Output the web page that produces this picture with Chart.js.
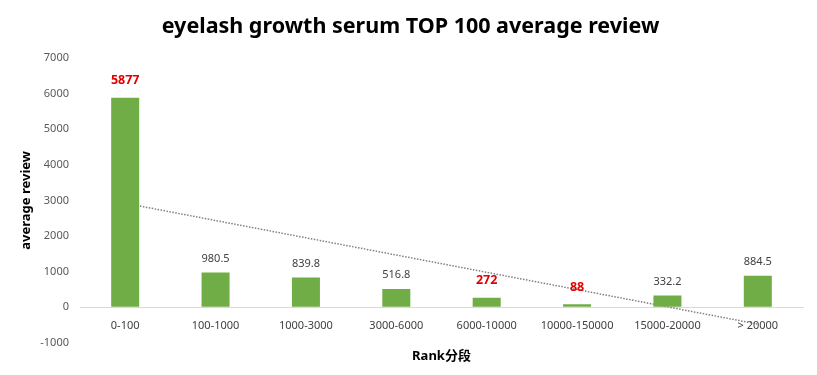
<!DOCTYPE html>
<html>
<head>
<meta charset="utf-8">
<script src="https://cdn.jsdelivr.net/npm/chart.js@4"></script>
<style>
  html, body { margin: 0; padding: 0; background: #fff; }
  #wrap { width: 817px; height: 375px; }
</style>
</head>
<body>
<div id="wrap"><canvas id="chart"></canvas></div>
<script>
const rankRanges = ["0-100", "100-1000", "1000-3000", "3000-6000", "6000-10000", "10000-150000", "15000-20000", "> 20000"];
const avgReview = [5877, 980.5, 839.8, 516.8, 272, 88, 332.2, 884.5];
// linear trendline ends
const trendLine = [2920, null, null, null, null, null, null, -470];
const yTicks = [-1000, 0, 1000, 2000, 3000, 4000, 5000, 6000, 7000];
const redLabels = ["0-100", "6000-10000", "10000-150000"];

const FONT = "'Noto Sans', 'Noto Sans CJK SC', sans-serif";

// value labels above the bars
const barLabels = {
  id: "barLabels",
  afterDatasetsDraw(chart) {
    const ctx = chart.ctx;
    const meta = chart.getDatasetMeta(0);
    ctx.save();
    ctx.textAlign = "center";
    ctx.textBaseline = "middle";
    meta.data.forEach((bar, i) => {
      const red = redLabels.includes(rankRanges[i]);
      ctx.fillStyle = red ? "#e00000" : "#404040";
      ctx.font = (red ? "bold 12.5px " : "11px ") + FONT;
      ctx.fillText(String(avgReview[i]), bar.x, bar.y - (red ? 17 : 14));
    });
    ctx.restore();
  },
};

// x axis title under the chart area
const xTitle = {
  id: "xTitle",
  afterDraw(chart) {
    const ctx = chart.ctx;
    const area = chart.chartArea;
    ctx.save();
    ctx.textAlign = "center";
    ctx.textBaseline = "middle";
    ctx.fillStyle = "#000";
    ctx.font = "bold 13px " + FONT;
    ctx.fillText("Rank分段", (area.left + area.right) / 2, 356);
    ctx.restore();
  },
};

new Chart(document.getElementById("chart"), {
  data: {
    labels: rankRanges,
    datasets: [
      {
        type: "bar",
        label: "average review",
        data: avgReview,
        backgroundColor: "#70ad47",
        barPercentage: 0.31,
        categoryPercentage: 1,
        order: 1,
      },
      {
        type: "line",
        label: "trend",
        data: trendLine,
        spanGaps: true,
        borderColor: "#808080",
        borderWidth: 1.5,
        borderDash: [1.5, 1.5],
        pointRadius: 0,
        fill: false,
        order: 2,
      },
    ],
  },
  options: {
    responsive: true,
    maintainAspectRatio: false,
    animation: false,
    layout: { padding: { left: 18, right: 14, top: 0, bottom: 32 } },
    plugins: {
      legend: { display: false },
      tooltip: { enabled: false },
      title: {
        display: true,
        text: "eyelash growth serum TOP 100 average review",
        color: "#000",
        font: { family: FONT, size: 21.5, weight: "bold" },
        padding: { top: 14, bottom: 18 },
      },
    },
    scales: {
      x: {
        position: { y: 0 },
        grid: { display: false },
        border: { color: "#d9d9d9" },
        ticks: {
          color: "#404040",
          font: { family: FONT, size: 11 },
          padding: 4,
          maxRotation: 0,
          autoSkip: false,
        },
      },
      y: {
        min: -1000,
        max: 7000,
        afterBuildTicks: (scale) => {
          scale.ticks = yTicks.map((v) => ({ value: v }));
        },
        afterFit: (scale) => {
          scale.width = 62;
        },
        border: { display: false },
        grid: {
          drawTicks: false,
          color: (c) => (c.tick && c.tick.value === 0 ? "#d9d9d9" : "rgba(0,0,0,0)"),
        },
        ticks: {
          color: "#595959",
          font: { family: FONT, size: 11 },
          padding: 11,
          callback: (v) => String(v),
        },
        title: {
          display: true,
          text: "average review",
          color: "#000",
          font: { family: FONT, size: 13, weight: "bold" },
          padding: { top: 0, bottom: 6 },
        },
      },
    },
  },
  plugins: [barLabels, xTitle],
});
</script>
</body>
</html>
